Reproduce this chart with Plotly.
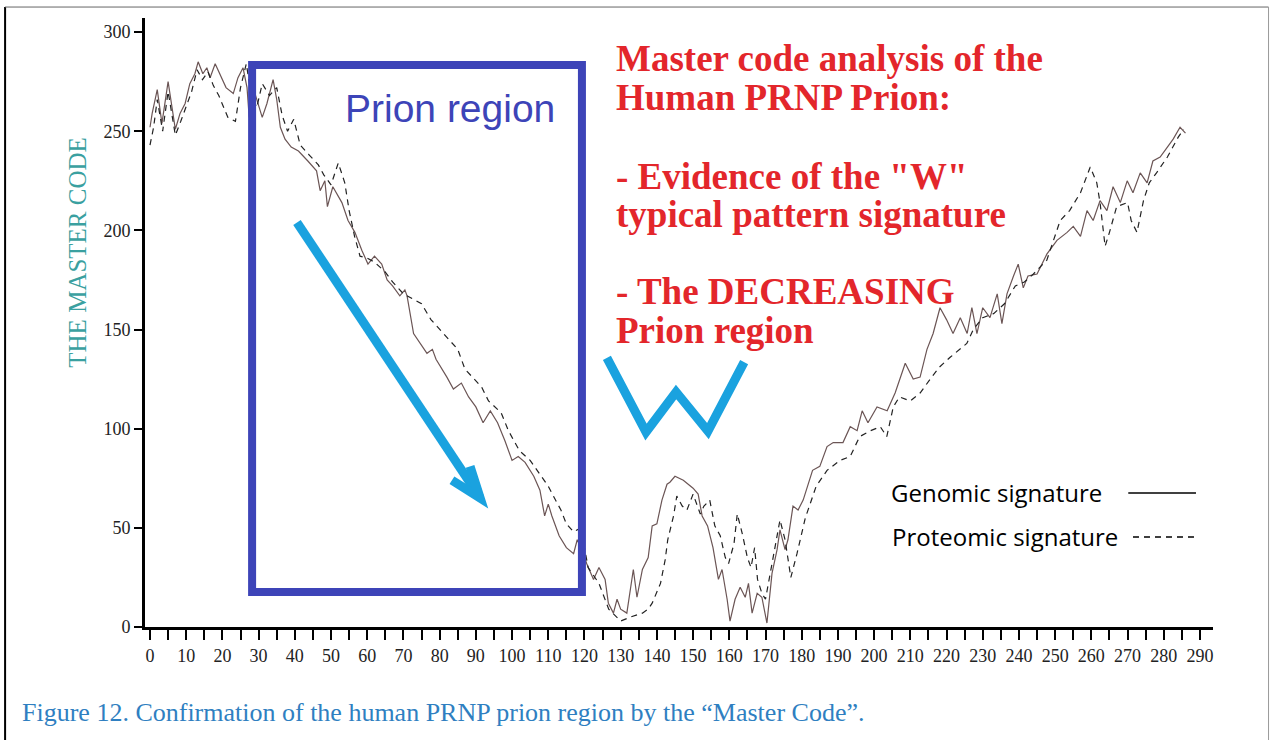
import plotly.graph_objects as go

# genomic signature (solid line)
genomic_x = [0, 0.6, 2, 3.3, 5, 7, 8.3, 9.7, 11, 12.4,
             13.3, 14.6, 15.7, 16.6, 18, 19.3, 21, 23, 24.3, 25.7,
             26.8, 27.4, 29, 31, 32.3, 34, 35, 36, 37.3, 39,
             41, 43.6, 46, 47, 48.3, 49, 50.5, 53, 54.7, 56.6,
             58.5, 60.2, 62, 64, 65.5, 67, 69, 70.4, 71, 72.8,
             74.6, 76.5, 78, 79, 82, 83.8, 86, 88, 90, 92,
             94, 96, 98, 100, 101.7, 103.6, 106, 107.7, 109, 110,
             111, 113, 115, 117, 118, 119.5, 120.6, 122.5, 124, 125.7,
             126.6, 128, 129, 130, 131.7, 133.5, 134.5, 136, 137.6, 138.7,
             140, 141.4, 142.8, 143.6, 145, 147.3, 150, 151.4, 152.5, 154,
             155.5, 157, 158, 159.4, 160.2, 161.6, 163, 164.4, 165.3, 166.3,
             167.7, 169, 170.4, 171.8, 173.2, 174, 175.4, 176.2, 177.6, 179,
             180.4, 183, 185, 187, 188.7, 191.4, 193.4, 195.3, 196.7, 198.3,
             200.8, 203.6, 205.8, 208.6, 210.8, 212.7, 214.6, 216.3, 218.2, 220,
             221.8, 223.8, 225.7, 227, 228.4, 230, 232, 234, 235.3, 236.7,
             238.5, 239.8, 241.2, 242.5, 245, 247.7, 250.5, 253.3, 255, 257,
             258.8, 260.5, 262.4, 264.3, 266, 268, 269.9, 271.5, 273.5, 275.4,
             277, 279, 281, 282.6, 284.5, 286]
genomic_y = [252, 259, 271, 254, 275, 251, 259, 264, 274, 279,
             285, 279, 282, 277, 284, 279, 272, 269, 277, 282,
             272, 257, 269, 257, 264, 276, 266, 252, 246, 242,
             240, 235, 230, 220, 225, 212, 222, 214, 205, 199,
             190, 183, 187, 183, 175, 172, 167, 170, 167, 148,
             143, 138, 140, 135, 126, 120, 123, 116, 111, 103,
             109, 103, 94, 84, 86, 83, 76, 69, 56, 62,
             56, 46, 40, 37, 44, 38, 32, 24, 30, 24,
             12, 7, 14, 9, 7, 29, 15, 29, 35, 51,
             52, 64, 72, 73, 76, 74, 70, 67, 56, 51,
             40, 24, 29, 14, 3, 14, 20, 15, 22, 7,
             17, 15, 2, 27, 39, 49, 39, 44, 61, 59,
             64, 79, 81, 91, 93, 93, 101, 99, 109, 103,
             111, 109, 118, 133, 125, 126, 140, 148, 161, 155,
             148, 156, 148, 161, 148, 161, 156, 168, 153, 168,
             177, 183, 171, 177, 178, 188, 195, 199, 202, 197,
             210, 205, 215, 210, 222, 214, 225, 219, 229, 224,
             235, 237, 242, 246, 252, 249]

# proteomic signature (dashed line)
proteomic_x = [0, 1, 2, 3.5, 5, 7, 8.5, 10, 11.5, 13,
               14.5, 16, 17.5, 19, 21.5, 23.6, 25, 26.6, 28, 29.5,
               31, 33, 35, 36.5, 38, 39.7, 41.5, 44, 46.5, 48,
               50, 52, 53.8, 55, 56.5, 58, 60, 62, 65, 67,
               70, 72, 75, 77.6, 80, 82.6, 85, 87, 89.6, 91.6,
               93.5, 97, 99, 102, 105, 107, 110, 112, 113.5, 115,
               117, 119, 121, 124, 126.7, 130, 132.7, 136, 137.6, 138.7,
               141, 142.3, 143, 144.6, 145.5, 147, 148.3, 150, 152, 153,
               154.6, 156, 157.5, 158.9, 159.8, 161.3, 162.2, 163.6, 165, 166,
               167, 167.8, 169, 170, 172, 174, 175.4, 177, 178.7, 181,
               184, 187, 190.6, 193.4, 196, 199, 201.7, 203.5, 205.3, 207,
               210, 212.7, 215.5, 218, 221, 223.8, 225.6, 227.4, 230, 233,
               236, 239, 241.5, 244, 247.7, 251.4, 254, 257, 259.7, 261.5,
               262.4, 263.8, 265, 267, 270, 271, 272.6, 274.4, 276, 278,
               281, 284, 285.5]
proteomic_y = [243, 252, 266, 250, 270, 248, 255, 262, 270, 281,
               276, 280, 273, 268, 257, 255, 272, 284, 268, 262,
               274, 268, 272, 258, 250, 256, 243, 238, 233, 228,
               223, 234, 224, 210, 197, 187, 186, 184, 179, 174,
               168, 166, 163, 155, 150, 145, 140, 130, 125, 121,
               114, 108, 99, 89, 84, 79, 71, 64, 59, 52,
               48, 50, 30, 22, 9, 3, 5, 7, 9, 12,
               22, 34, 44, 56, 66, 61, 59, 67, 57, 61,
               64, 51, 46, 35, 32, 42, 57, 47, 35, 30,
               40, 24, 17, 14, 34, 54, 44, 25, 37, 55,
               71, 79, 84, 86, 96, 99, 101, 96, 111, 116,
               114, 118, 125, 131, 136, 140, 143, 150, 156, 158,
               163, 172, 174, 178, 185, 205, 210, 219, 232, 224,
               214, 192, 199, 212, 214, 205, 199, 215, 224, 229,
               237, 247, 251]

assert len(genomic_x) == len(genomic_y)
assert len(proteomic_x) == len(proteomic_y)

x_major = list(range(0, 300, 10))
y_ticks = [0, 50, 100, 150, 200, 250, 300]

# red note, one entry per line (blank lines are gaps in the y positions)
note_lines = ["Master code analysis of the", "Human PRNP Prion:",
              "- Evidence of the \"W\"", "typical pattern signature",
              "- The DECREASING", "Prion region"]
note_y = [286.8, 267.1, 227.3, 208.1, 169.3, 149.6]

SERIF = "Liberation Serif"
BLUE = "#3d44b8"
CYAN = "#1aa2df"
RED = "#e3262b"

fig = go.Figure()
fig.add_trace(go.Scatter(x=genomic_x, y=genomic_y, mode="lines", name="Genomic signature",
                         line=dict(color="#6b5555", width=1.2)))
fig.add_trace(go.Scatter(x=proteomic_x, y=proteomic_y, mode="lines", name="Proteomic signature",
                         line=dict(color="#222222", width=1.2, dash="6px,5px")))

# prion region box, arrow and "W"
fig.add_shape(type="rect", x0=28.2, x1=119.3, y0=17.6, y1=283.4,
              line=dict(color=BLUE, width=8))
fig.add_shape(type="path", path="M 40.6,204 L 91.2,65", line=dict(color=CYAN, width=9))
fig.add_shape(type="path", path="M 83.4,74 L 91.2,65 L 88.4,81", line=dict(color=CYAN, width=9))
fig.add_shape(type="path", path="M 126.2,135.7 L 137,98.3 L 145.3,118.5 L 154.1,98.8 L 164.1,133.6",
              line=dict(color=CYAN, width=9))

# legend drawn as text + sample lines
fig.add_shape(type="line", x0=270.2, x1=288.9, y0=67.6, y1=67.6, line=dict(color="black", width=1.5))
fig.add_shape(type="line", x0=271.5, x1=288.7, y0=45.4, y1=45.4,
              line=dict(color="black", width=1.5, dash="6px,5px"))

# outer frame
fig.add_shape(type="line", xref="paper", yref="paper", x0=-0.131, x1=-0.131, y0=1.018, y1=-0.19,
              line=dict(color="black", width=2))
fig.add_shape(type="line", xref="paper", yref="paper", x0=-0.131, x1=1.052, y0=1.018, y1=1.018,
              line=dict(color="#666666", width=1))
fig.add_shape(type="line", xref="paper", yref="paper", x0=1.052, x1=1.052, y0=1.018, y1=-0.19,
              line=dict(color="#999999", width=1))

annotations = [
    dict(text="Prion region", x=82.9, y=261.7, showarrow=False,
         font=dict(family="Liberation Sans", size=39, color=BLUE)),
    dict(text="Genomic signature", x=233.7, y=67.6, showarrow=False,
         font=dict(family="Open Sans", size=24, color="black")),
    dict(text="Proteomic signature", x=236.2, y=45.4, showarrow=False,
         font=dict(family="Open Sans", size=24, color="black")),
    dict(text="THE MASTER CODE", xref="paper", x=-0.0777, y=189, textangle=-90, showarrow=False,
         font=dict(family=SERIF, size=25, color="#3aa0a0")),
    dict(text="Figure 12. Confirmation of the human PRNP prion region by the \u201cMaster Code\u201d.",
         xref="paper", yref="paper", x=-0.117, y=-0.1396, xanchor="left", yanchor="middle",
         showarrow=False, font=dict(family=SERIF, size=26, color="#2f7fc1")),
]
for line, ly in zip(note_lines, note_y):
    annotations.append(dict(text=line, x=128.2, y=ly, xanchor="left", yanchor="middle",
                            showarrow=False,
                            font=dict(family=SERIF, size=37, color=RED, weight="bold")))

fig.update_layout(
    width=1272, height=740,
    margin=dict(l=145, r=59, t=18, b=113),
    paper_bgcolor="white", plot_bgcolor="white",
    showlegend=False,
    annotations=annotations,
)
fig.update_xaxes(range=[-1.38, 293.6], tickvals=x_major, ticks="outside", ticklen=10, tickwidth=2,
                 tickcolor="black", showline=True, linewidth=3, linecolor="black", showgrid=False,
                 zeroline=False, tickfont=dict(family=SERIF, size=18, color="#222"),
                 minor=dict(dtick=5, tick0=0, ticks="outside", ticklen=10, tickwidth=2, tickcolor="black"))
fig.update_yaxes(range=[0, 307.1], tickvals=y_ticks, ticks="outside", ticklen=8, tickwidth=2,
                 tickcolor="black", showline=True, linewidth=3, linecolor="black", showgrid=False,
                 zeroline=False, tickfont=dict(family=SERIF, size=18, color="#222"))

fig.write_html("out.html", config={"displayModeBar": False},
               post_script="document.body.style.margin='0';")
